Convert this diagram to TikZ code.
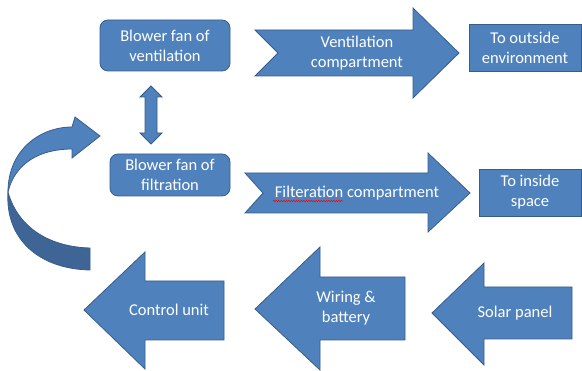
\documentclass[tikz,border=0pt]{standalone}
\usepackage{fontspec}
\setmainfont{Carlito}
\usetikzlibrary{decorations.pathmorphing}
\definecolor{boxblue}{HTML}{4F81BD}
\definecolor{boxedge}{HTML}{385D8A}
\definecolor{darkblue}{HTML}{3E6596}
\tikzset{
	blk/.style={fill=boxblue,draw=boxedge,line width=0.8pt,line join=miter},
	lbl/.style={text=white,font=\fontsize{16.5}{20}\selectfont,align=center,inner sep=0pt},
	fanbox/.style={blk,lbl,rounded corners=8pt},
	outbox/.style={blk,lbl}
}
\begin{document}
\begin{tikzpicture}[x=1pt,y=-1pt]
		\useasboundingbox (0,0) rectangle (582,371);
		\node[fanbox,minimum width=130pt,minimum height=51pt] (ventfan) at (165,45.5) {Blower fan of\\ventilation};
		\node[fanbox,minimum width=120pt,minimum height=42pt] (filtfan) at (170,175) {Blower fan of\\filtration};
		\node[outbox,minimum width=112pt,minimum height=47pt] (outside) at (525,47.5) {To outside\\environment};
		\node[outbox,minimum width=102pt,minimum height=47pt] (inside) at (530,192.5) {To inside\\space};
		
		\draw[blk] (255,30) -- (413,30) -- (413,8) -- (459,53) -- (413,98) -- (413,76) -- (255,76) -- (278,53) -- cycle;
		\node[lbl] (ventcomp) at (357,53) {Ventilation\\compartment};
		\draw[blk] (245,173) -- (428,173) -- (428,153) -- (470,193) -- (428,232) -- (428,213) -- (245,213) -- (263,193) -- cycle;
		\node[lbl] (filtcomp) at (357,193) {Filteration compartment};
		\draw[red,line width=0.5pt,decorate,decoration={snake,amplitude=0.7pt,segment length=2.5pt}] (273,201) -- (343,201);
		
		\draw[blk] (151,86) -- (162,97) -- (157,97) -- (157,133) -- (162,133) -- (151,144) -- (140,133) -- (145,133) -- (145,97) -- (140,97) -- cycle;
		
		\draw[blk,fill=darkblue] (8,192) .. controls (5,240) and (40,269) .. (90,270) -- (90,248) .. controls (50,247) and (18,228) .. (8,192) -- cycle;
		\draw[blk] (8,192) .. controls (8,150) and (40,127) .. (72,127) -- (75,117) -- (100,136) -- (72,158) -- (72,149) .. controls (40,149) and (15,163) .. (8,192) -- cycle;
		
		\draw[blk] (84,310) -- (145,252) -- (145,281) -- (224,281) -- (224,340) -- (145,340) -- (145,369) -- cycle;
		\node[lbl] (control) at (169,310) {Control unit};
		\draw[blk] (255,309) -- (320,247) -- (320,277) -- (405,277) -- (405,340) -- (320,340) -- (320,370) -- cycle;
		\node[lbl] (wiring) at (346,308) {Wiring \&\\battery};
		\draw[blk] (432,313) -- (484,263) -- (484,287) -- (572,287) -- (572,339) -- (484,339) -- (484,365) -- cycle;
		\node[lbl] (solar) at (515,313) {Solar panel};
	\end{tikzpicture}
\end{document}
